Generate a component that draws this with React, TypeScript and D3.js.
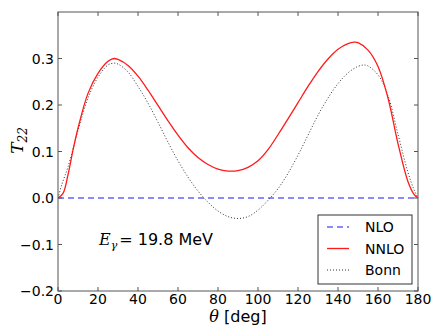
import React from 'react';
import * as d3 from 'd3';

// Angles in degrees, T22 values
const nnloTheta = [0, 2.5, 5, 7.5, 10, 15, 20, 25, 28, 30, 35, 40, 45, 50, 55, 60, 65, 70, 75, 80, 85, 90, 95, 100, 105, 110, 115, 120, 125, 130, 135, 140, 145, 148, 150, 155, 160, 165, 170, 175, 178, 180];
const nnloValues = [0, 0.01, 0.05, 0.103, 0.15, 0.225, 0.268, 0.294, 0.3, 0.298, 0.285, 0.262, 0.232, 0.199, 0.166, 0.135, 0.108, 0.087, 0.072, 0.062, 0.058, 0.059, 0.066, 0.08, 0.104, 0.136, 0.17, 0.205, 0.24, 0.272, 0.299, 0.32, 0.332, 0.335, 0.334, 0.318, 0.283, 0.215, 0.117, 0.035, 0.008, 0];

const bonnTheta = [0, 2, 5, 10, 15, 20, 25, 28, 30, 35, 40, 45, 50, 55, 60, 65, 70, 75, 80, 85, 90, 95, 100, 105, 110, 115, 120, 125, 130, 135, 140, 145, 150, 153, 155, 160, 165, 170, 175, 178, 180];
const bonnValues = [0, 0.03, 0.067, 0.145, 0.215, 0.26, 0.286, 0.29, 0.288, 0.271, 0.24, 0.204, 0.163, 0.12, 0.08, 0.045, 0.015, -0.009, -0.028, -0.04, -0.044, -0.04, -0.026, -0.005, 0.02, 0.053, 0.092, 0.135, 0.178, 0.215, 0.246, 0.269, 0.283, 0.286, 0.284, 0.265, 0.22, 0.137, 0.055, 0.018, 0];

const nloTheta = [0, 180];
const nloValues = [0, 0];

const xTicks = [0, 20, 40, 60, 80, 100, 120, 140, 160, 180];
const yTicks = [-0.2, -0.1, 0.0, 0.1, 0.2, 0.3];

const legendItems = [
  { label: 'NLO', color: '#6464ff', dash: '6,4', width: 1.3 },
  { label: 'NNLO', color: '#ff1a1a', dash: null, width: 1.3 },
  { label: 'Bonn', color: '#333333', dash: '1,2', width: 1 },
];

const W = 436;
const H = 333;
const margin = { left: 58, right: 18, top: 12, bottom: 42 };
const font = 'DejaVu Sans, sans-serif';

export default function App() {
  const x = d3.scaleLinear().domain([0, 180]).range([margin.left, W - margin.right]);
  const y = d3.scaleLinear().domain([-0.2, 0.4]).range([H - margin.bottom, margin.top]);

  const line = d3
    .line<number>()
    .x((d) => x(d))
    .curve(d3.curveCatmullRom.alpha(0.5));

  const path = (thetas: number[], vals: number[]) =>
    line.y((d, i) => y(vals[i]))(thetas) || '';

  const fmt = (v: number) => {
    const s = Math.abs(v).toFixed(1);
    return v < -1e-9 ? '\u2212' + s : s;
  };

  const x0 = x(0), x1 = x(180), y0 = y(-0.2), y1 = y(0.4);
  const tick = 4;
  const frame = '#555';

  // legend box
  const lgX = 318, lgY = 215, lgW = 94, lgH = 69;

  return (
    <div style={{ position: 'fixed', left: 0, top: 0, background: '#fff' }}>
      <svg width={W} height={H} style={{ display: 'block' }}>
        <rect x={0} y={0} width={W} height={H} fill="#fff" />
        <defs>
          <clipPath id="plot">
            <rect x={x0} y={y1} width={x1 - x0} height={y0 - y1} />
          </clipPath>
        </defs>

        <g clipPath="url(#plot)">
          <path d={path(nloTheta, nloValues)} fill="none" stroke={legendItems[0].color} strokeWidth={1.3} strokeDasharray="6,4" />
          <path d={path(bonnTheta, bonnValues)} fill="none" stroke={legendItems[2].color} strokeWidth={1} strokeDasharray="1,2" />
          <path d={path(nnloTheta, nnloValues)} fill="none" stroke={legendItems[1].color} strokeWidth={1.3} />
        </g>

        {/* frame */}
        <rect x={x0} y={y1} width={x1 - x0} height={y0 - y1} fill="none" stroke={frame} strokeWidth={1} />

        {/* x ticks */}
        {xTicks.map((t) => (
          <g key={'x' + t}>
            <line x1={x(t)} x2={x(t)} y1={y0} y2={y0 - tick} stroke={frame} />
            <line x1={x(t)} x2={x(t)} y1={y1} y2={y1 + tick} stroke={frame} />
            <text x={x(t)} y={y0 + 13} textAnchor="middle" fontFamily={font} fontSize={14} fill="#000">
              {t}
            </text>
          </g>
        ))}

        {/* y ticks */}
        {yTicks.map((t) => (
          <g key={'y' + t}>
            <line x1={x0} x2={x0 + tick} y1={y(t)} y2={y(t)} stroke={frame} />
            <line x1={x1} x2={x1 - tick} y1={y(t)} y2={y(t)} stroke={frame} />
            <text x={x0 - 4} y={y(t) + 5} textAnchor="end" fontFamily={font} fontSize={14} fill="#000">
              {fmt(t)}
            </text>
          </g>
        ))}

        {/* axis labels */}
        <text x={(x0 + x1) / 2} y={322} textAnchor="middle" fontFamily={font} fontSize={16} fill="#000">
          <tspan fontFamily="DejaVu Serif, serif" fontStyle="italic">θ</tspan> [deg]
        </text>
        <text transform={`translate(23, ${(y0 + y1) / 2 - 11}) rotate(-90)`} textAnchor="middle" fontFamily="DejaVu Serif, serif" fontStyle="italic" fontSize={17} fill="#000">
          T<tspan fontSize={12} dy={4}>22</tspan>
        </text>

        {/* annotation */}
        <text x={99} y={245} fontFamily={font} fontSize={16} fill="#000">
          <tspan fontFamily="DejaVu Serif, serif" fontStyle="italic">E</tspan>
          <tspan fontFamily="DejaVu Serif, serif" fontStyle="italic" fontSize={11} dy={4}>γ</tspan>
          <tspan dy={-4} dx={2}>= 19.8 MeV</tspan>
        </text>

        {/* legend */}
        <rect x={lgX} y={lgY} width={lgW} height={lgH} fill="#fff" stroke="#333" strokeWidth={1} />
        {legendItems.map((it, i) => {
          const cy = lgY + 12 + i * 21.5;
          return (
            <g key={it.label}>
              <line x1={lgX + 9} x2={lgX + 31} y1={cy} y2={cy} stroke={it.color} strokeWidth={it.width} strokeDasharray={it.dash || undefined} />
              <text x={lgX + 47} y={cy + 5} fontFamily={font} fontSize={14} fill="#000">
                {it.label}
              </text>
            </g>
          );
        })}
      </svg>
    </div>
  );
}
